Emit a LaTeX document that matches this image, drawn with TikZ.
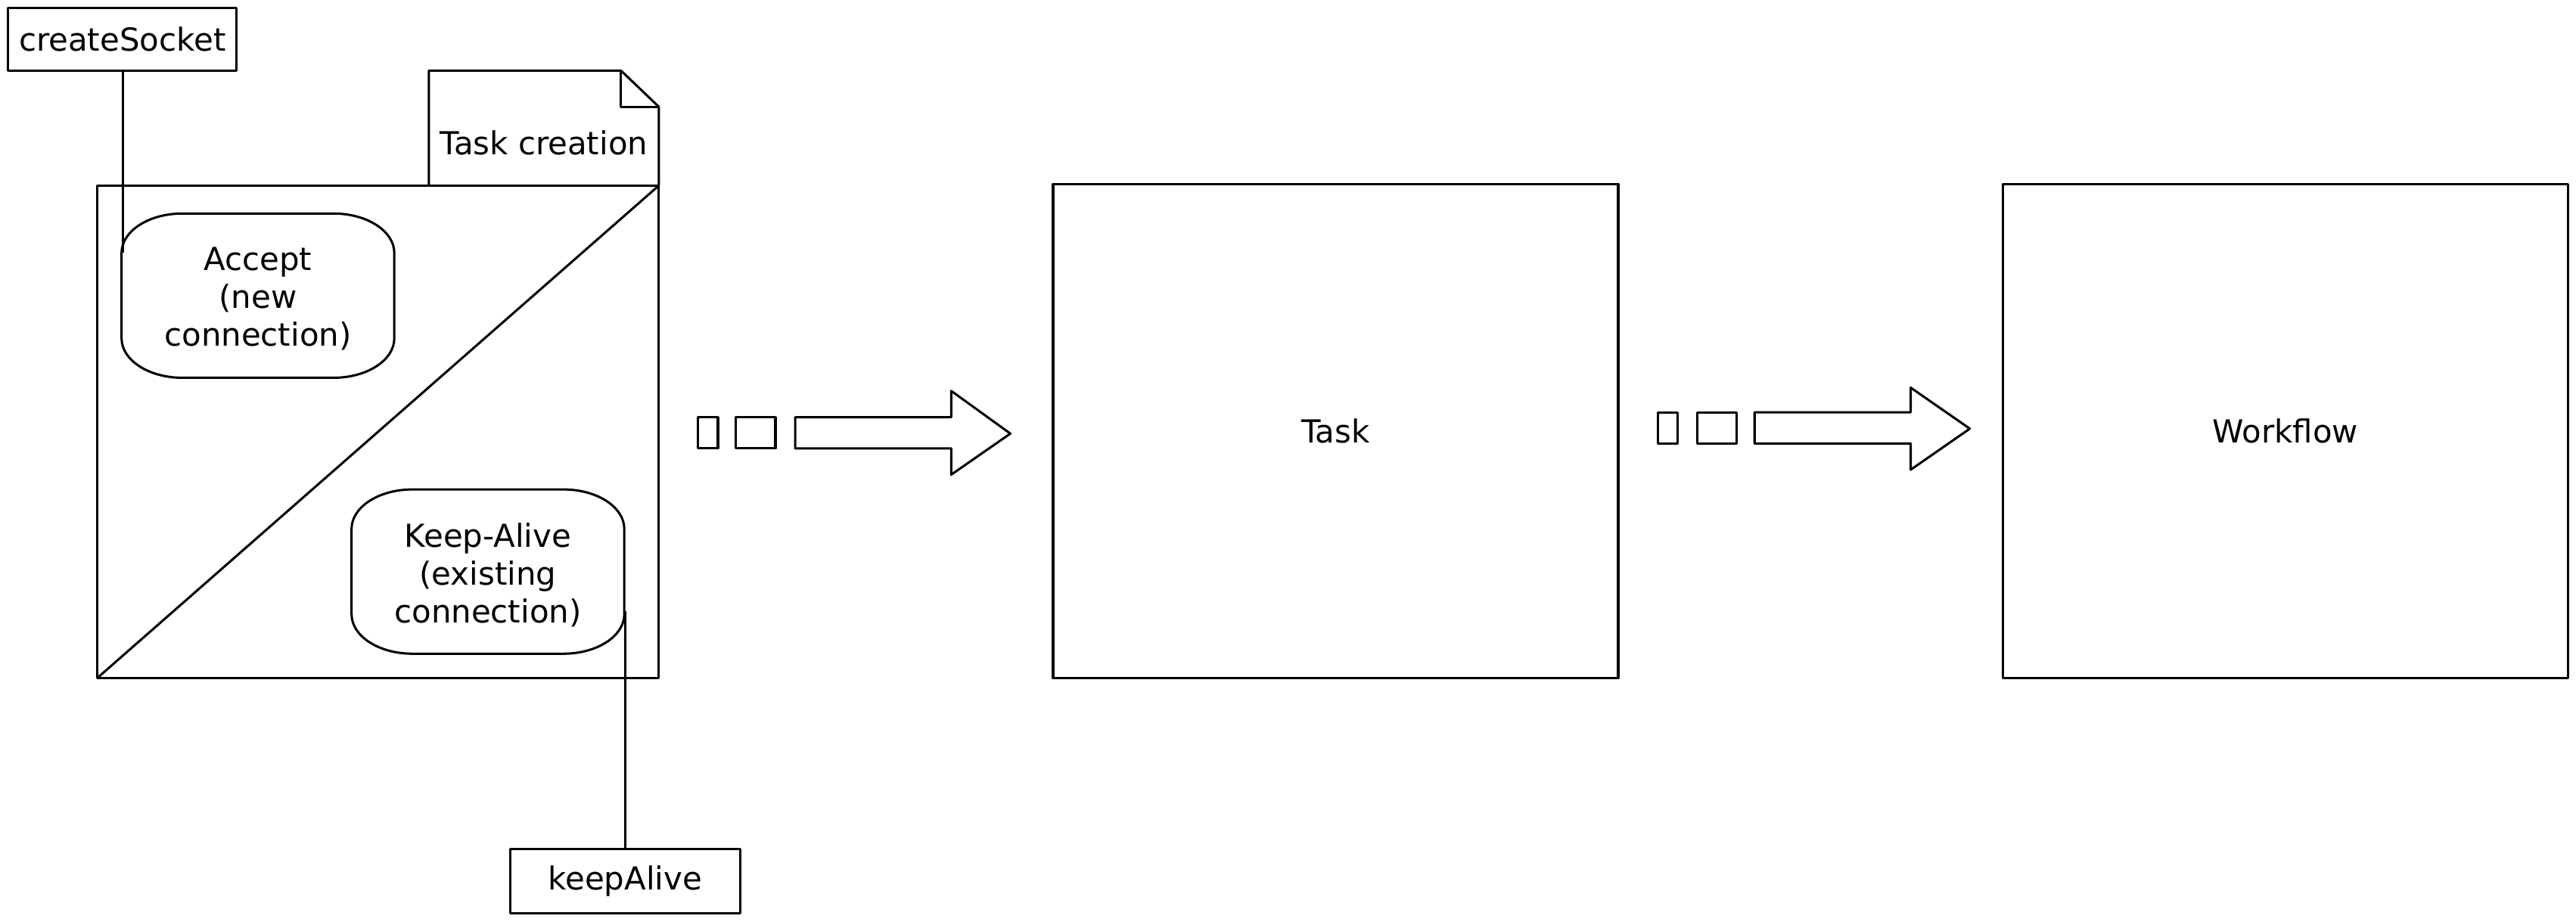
\documentclass[tikz,border=0pt]{standalone}
\usepackage{fontspec}
\setmainfont{DejaVu Sans}
\newcommand\myovalpath{(37,0) -- (129,0) .. controls (149.4,0) and (166,10.7) .. (166,24) -- (166,76) .. controls (166,89.3) and (149.4,100) .. (129,100) -- (37,100) .. controls (16.6,100) and (0,89.3) .. (0,76) -- (0,24) .. controls (0,10.7) and (16.6,0) .. (37,0) -- cycle}
\begin{document}
\begin{tikzpicture}[x=1pt,y=-1pt,line width=1.4pt,line join=round,
  every node/.style={font=\fontsize{19.3}{23}\selectfont,inner sep=0pt,outer sep=0pt},
  labelbox/.style={draw,rectangle},
  bigbox/.style={draw,rectangle,minimum width=344pt,minimum height=301pt},
  ovaltext/.style={rectangle,minimum width=166pt,minimum height=100pt,align=center}]
\useasboundingbox (0,0) rectangle (1568,561);
% left part
\node[labelbox,minimum width=139pt,minimum height=38pt] (cs) at (74.5,24) {createSocket};
\node[draw,rectangle,minimum width=342pt,minimum height=300pt] (tcb) at (230,263) {};
\draw (tcb.south west) -- (tcb.north east);
\draw (261,113) -- (261,43) -- (378,43) -- (401,65) -- (401,113);
\draw (378,43) -- (378,65) -- (401,65);
\node (tcl) at (331,87) {Task creation};
\draw[shift={(74,130)}] \myovalpath;
\node[ovaltext] (acc) at (157,182) {Accept\\(new\hspace*{6pt}\\connection)};
\draw[shift={(214,298)}] \myovalpath;
\node[ovaltext] (kab) at (297,350) {Keep-Alive\\(existing\hspace*{4pt}\\connection)};
\node[labelbox,minimum width=140pt,minimum height=39pt] (ka) at (380.5,536.5) {keepAlive};
\coordinate (accl) at (74.8,154);
\coordinate (kabr) at (380.5,372);
\draw (cs.south -| accl) -- (accl);
\draw (ka.north) -- (kabr);
% middle and right boxes
\node[bigbox] (task) at (813,262.5) {Task};
\node[bigbox] (wf) at (1391,262.5) {Workflow};
% arrow 1
\draw (425,254) rectangle (437,273);
\draw (448,254) rectangle (472,273);
\draw (484,254) -- (579,254) -- (579,238) -- (615,264) -- (579,289) -- (579,273) -- (484,273) -- cycle;
% arrow 2
\draw (1009,251) rectangle (1021,270);
\draw (1033,251) rectangle (1057,270);
\draw (1068,251) -- (1163,251) -- (1163,236) -- (1199,261) -- (1163,286) -- (1163,270) -- (1068,270) -- cycle;
\end{tikzpicture}
\end{document}
